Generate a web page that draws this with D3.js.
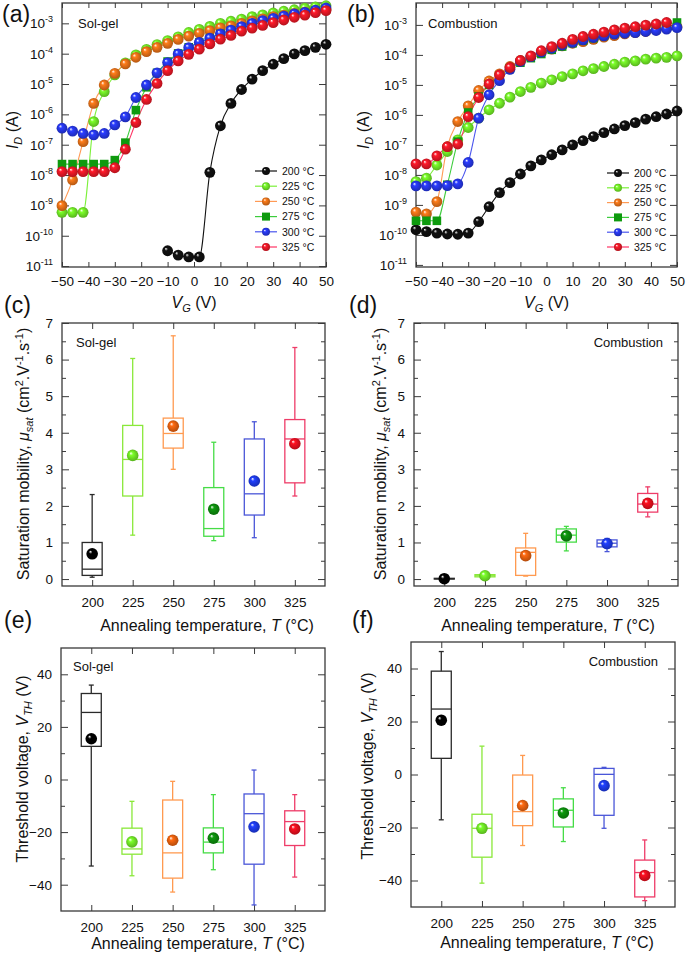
<!DOCTYPE html>
<html><head><meta charset="utf-8">
<script src="https://cdn.jsdelivr.net/npm/d3@7"></script>
<style>
body{margin:0;background:#fff}
svg{display:block}
text{font-family:"Liberation Sans",Arial,sans-serif;fill:#111}
</style>
</head><body>
<svg id="c" width="686" height="961"></svg>
<script>
// ---------------- DATA ----------------
const temps = [200, 225, 250, 275, 300, 325];
const tempLabels = ["200 °C", "225 °C", "250 °C", "275 °C", "300 °C", "325 °C"];
const vgTicks = [-50, -40, -30, -20, -10, 0, 10, 20, 30, 40, 50];
const vg = [-50, -46, -42, -38, -34, -30, -26, -22, -18, -14, -10, -6, -2, 2, 6, 10, 14, 18, 22, 26, 30, 34, 38, 42, 46, 50];
const logTicks = [1e-11, 1e-10, 1e-9, 1e-8, 1e-7, 1e-6, 1e-5, 1e-4, 1e-3];

// (a) Sol-gel transfer curves, I_D (A)
const idSolgel200 = [null, null, null, null, null, null, null, null, null, null, 3.2e-11, 2.3e-11, 2.0e-11, 2.0e-11, 1.23e-8, 4.2e-7, 2.3e-6, 6.6e-6, 1.45e-5, 2.75e-5, 4.5e-5, 6.9e-5, 9.8e-5, 1.26e-4, 1.62e-4, 2.04e-4];
const idSolgel225 = [5.9e-10, 5.9e-10, 5.9e-10, 5.8e-7, 5.6e-6, 2.0e-5, 5.0e-5, 9.1e-5, 1.38e-4, 2.0e-4, 2.7e-4, 3.6e-4, 5.0e-4, 6.3e-4, 7.9e-4, 1.0e-3, 1.17e-3, 1.38e-3, 1.66e-3, 1.9e-3, 2.19e-3, 2.5e-3, 2.8e-3, 3.16e-3, 3.47e-3, 3.8e-3];
const idSolgel250 = [9.8e-10, 6.9e-9, 1.26e-7, 2.3e-6, 9.3e-6, 2.24e-5, 4.6e-5, 7.6e-5, 1.17e-4, 1.62e-4, 2.19e-4, 2.95e-4, 3.8e-4, 4.7e-4, 5.75e-4, 7.1e-4, 8.3e-4, 1.0e-3, 1.2e-3, 1.41e-3, 1.66e-3, 1.86e-3, 2.14e-3, 2.34e-3, 2.63e-3, 2.88e-3];
const idSolgel275 = [2.3e-8, 2.3e-8, 2.3e-8, 2.3e-8, 2.3e-8, 3.1e-8, 1.17e-7, 1.38e-6, 7.8e-6, 2.34e-5, 5.5e-5, 1.02e-4, 1.62e-4, 2.34e-4, 3.24e-4, 4.5e-4, 5.75e-4, 7.2e-4, 8.9e-4, 1.1e-3, 1.35e-3, 1.58e-3, 1.82e-3, 2.14e-3, 2.57e-3, 2.88e-3];
const idSolgel300 = [3.5e-7, 2.8e-7, 2.35e-7, 2.1e-7, 2.35e-7, 4.5e-7, 8.3e-7, 3.6e-6, 9.3e-6, 2.34e-5, 5.1e-5, 9.8e-5, 1.58e-4, 2.34e-4, 3.24e-4, 4.5e-4, 6.0e-4, 7.8e-4, 1.0e-3, 1.23e-3, 1.45e-3, 1.74e-3, 2.04e-3, 2.29e-3, 2.7e-3, 3.2e-3];
const idSolgel325 = [1.3e-8, 1.3e-8, 1.3e-8, 1.3e-8, 1.3e-8, 1.74e-8, 7.1e-8, 5.4e-7, 3.1e-6, 1.05e-5, 2.75e-5, 5.75e-5, 9.5e-5, 1.41e-4, 2.1e-4, 3.0e-4, 4.0e-4, 5.5e-4, 6.9e-4, 8.5e-4, 1.05e-3, 1.29e-3, 1.58e-3, 1.86e-3, 2.24e-3, 2.63e-3];

// (b) Combustion transfer curves, I_D (A)
const idComb200 = [1.48e-10, 1.29e-10, 1.15e-10, 1.07e-10, 1.05e-10, 1.15e-10, 2.75e-10, 8.7e-10, 2.57e-9, 5.5e-9, 1.07e-8, 2.0e-8, 3.16e-8, 4.7e-8, 6.8e-8, 1.0e-7, 1.38e-7, 1.9e-7, 2.57e-7, 3.4e-7, 4.4e-7, 5.5e-7, 7.2e-7, 8.7e-7, 1.07e-6, 1.35e-6];
const idComb225 = [6.0e-9, 7.8e-9, 2.14e-8, 6.0e-8, 1.48e-7, 3.8e-7, 7.8e-7, 1.48e-6, 2.45e-6, 3.9e-6, 6.0e-6, 8.3e-6, 1.15e-5, 1.48e-5, 1.9e-5, 2.34e-5, 2.95e-5, 3.5e-5, 4.1e-5, 4.9e-5, 5.75e-5, 6.3e-5, 7.2e-5, 7.8e-5, 8.3e-5, 9.3e-5];
const idComb250 = [5.75e-10, 5.0e-10, 1.29e-9, 8.7e-8, 6.0e-7, 2.0e-6, 6.5e-6, 1.35e-5, 2.34e-5, 4.1e-5, 6.5e-5, 8.7e-5, 1.2e-4, 1.55e-4, 2.0e-4, 2.45e-4, 2.75e-4, 3.3e-4, 3.9e-4, 4.4e-4, 5.0e-4, 5.5e-4, 6.0e-4, 6.8e-4, 7.8e-4, 8.7e-4];
const idComb275 = [2.95e-10, 2.95e-10, 2.95e-10, 4.7e-9, 1.29e-7, 1.2e-6, 4.1e-6, 1.0e-5, 1.9e-5, 3.6e-5, 5.5e-5, 7.8e-5, 1.07e-4, 1.48e-4, 1.9e-4, 2.45e-4, 3.0e-4, 3.6e-4, 4.3e-4, 5.2e-4, 6.0e-4, 6.8e-4, 8.1e-4, 9.3e-4, 1.05e-3, 1.2e-3];
const idComb300 = [4.3e-9, 4.3e-9, 4.3e-9, 4.4e-9, 5.0e-9, 2.6e-8, 7.8e-7, 4.7e-6, 1.38e-5, 3.3e-5, 6.0e-5, 8.7e-5, 1.23e-4, 1.66e-4, 2.14e-4, 2.6e-4, 3.16e-4, 3.8e-4, 4.3e-4, 4.9e-4, 5.25e-4, 5.5e-4, 6.0e-4, 6.5e-4, 7.2e-4, 8.1e-4];
const idComb325 = [2.34e-8, 2.34e-8, 4.3e-8, 8.7e-8, 1.07e-7, 8.7e-7, 3.8e-6, 1.07e-5, 2.14e-5, 3.8e-5, 6.5e-5, 9.3e-5, 1.38e-4, 1.9e-4, 2.45e-4, 3.3e-4, 4.1e-4, 4.9e-4, 5.75e-4, 6.8e-4, 7.8e-4, 8.7e-4, 9.8e-4, 1.07e-3, 1.2e-3, null];

// (c) Sol-gel saturation mobility (cm2/Vs)
const mobSolgelMin  = [0.05, 1.2, 3.0, 1.05, 1.13, 2.27];
const mobSolgelQ1   = [0.1, 2.27, 3.58, 1.17, 1.75, 2.63];
const mobSolgelMed  = [0.27, 3.27, 3.98, 1.38, 2.33, 3.83];
const mobSolgelQ3   = [1.0, 4.2, 4.4, 2.5, 3.83, 4.36];
const mobSolgelMax  = [2.31, 6.03, 6.65, 3.74, 4.3, 6.33];
const mobSolgelMean = [0.69, 3.38, 4.18, 1.91, 2.68, 3.7];
// (d) Combustion saturation mobility
const mobCombMin  = [0.0, 0.05, 0.08, 0.77, 0.75, 1.7];
const mobCombQ1   = [0.0, 0.06, 0.1, 1.01, 0.88, 1.83];
const mobCombMed  = [0.01, 0.09, 0.73, 1.2, 0.98, 2.05];
const mobCombQ3   = [0.02, 0.12, 0.85, 1.37, 1.07, 2.34];
const mobCombMax  = [0.03, 0.13, 1.25, 1.44, 1.11, 2.52];
const mobCombMean = [0.01, 0.09, 0.64, 1.18, 0.97, 2.07];
// (e) Sol-gel threshold voltage (V)
const vthSolgelMin  = [-32.9, -36.6, -42.8, -34.3, -47.7, -37.1];
const vthSolgelQ1   = [12.6, -28.4, -37.5, -27.9, -32.2, -25.1];
const vthSolgelMed  = [25.5, -26.4, -27.9, -23.8, -13.0, -16.0];
const vthSolgelQ3   = [32.7, -18.5, -7.8, -18.4, -5.5, -11.9];
const vthSolgelMax  = [35.9, -8.3, -0.7, -5.75, 3.6, -5.75];
const vthSolgelMean = [15.5, -23.7, -23.1, -22.3, -18.0, -18.8];
// (f) Combustion threshold voltage (V)
const vthCombMin  = [-17.1, -41.0, -26.8, -25.3, -20.3, -47.6];
const vthCombQ1   = [6.1, -31.2, -19.3, -19.8, -15.4, -46.2];
const vthCombMed  = [24.7, -20.3, -14.0, -13.5, 0.06, -37.0];
const vthCombQ3   = [39.0, -15.0, -0.2, -9.2, 2.3, -32.3];
const vthCombMax  = [46.4, 10.7, 7.2, -5.0, 2.7, -24.7];
const vthCombMean = [20.5, -20.3, -11.7, -14.5, -4.2, -38.1];

const mobTicks = [0, 1, 2, 3, 4, 5, 6, 7];
const mobMinor = [0.5, 1.5, 2.5, 3.5, 4.5, 5.5, 6.5];
const vthTicks = [-40, -20, 0, 20, 40];
const vthMinor = [-30, -10, 10, 30];

// ---------------- STYLE ----------------
const markerColors = ["#111111", "#7cff2a", "#ff7d1a", "#0e9a0e", "#2a3cff", "#ff1a2a"];
const lineColors   = ["#111111", "#7cf03a", "#ff9a55", "#3ccc3c", "#4a55ee", "#ff3565"];
const boxColors    = ["#2a2a2a", "#8ae83a", "#ff9a50", "#46dc46", "#4a56d8", "#ee3c68"];
const meanColors   = ["#000000", "#7cff2a", "#ff6a10", "#0e9a0e", "#2040ff", "#ff1020"];
const FONT = '"Liberation Sans", Arial, sans-serif';
const frameColor = "#3a3a3a";

const svg = d3.select("#c");
const defs = svg.append("defs");
function makeGrad(id, c) {
  const g = defs.append("radialGradient").attr("id", id)
    .attr("cx", "50%").attr("cy", "50%").attr("r", "55%").attr("fx", "33%").attr("fy", "30%");
  g.append("stop").attr("offset", "0%").attr("stop-color", "#ffffff");
  g.append("stop").attr("offset", "28%").attr("stop-color", c);
  g.append("stop").attr("offset", "100%").attr("stop-color", d3.color(c).darker(1.1).formatHex());
}
markerColors.forEach((c, i) => makeGrad("sph" + i, c));
meanColors.forEach((c, i) => makeGrad("msph" + i, c));

function styleAxis(sel, fs) {
  sel.attr("font-size", fs).attr("font-family", FONT);
  sel.select(".domain").remove();
  sel.selectAll(".tick line").attr("stroke", frameColor).attr("stroke-width", 1);
  sel.selectAll(".tick text").attr("fill", "#111");
}
function frame(g, x0, y0, x1, y1) {
  g.append("rect").attr("x", x0).attr("y", y0).attr("width", x1 - x0).attr("height", y1 - y0)
    .attr("fill", "none").attr("stroke", frameColor).attr("stroke-width", 1.3);
}
function txt(g, x, y, s, fs, anchor) {
  return g.append("text").attr("x", x).attr("y", y).attr("font-size", fs)
    .attr("text-anchor", anchor || "start").text(s);
}

// ---------------- TRANSFER PANELS ----------------
function ivPanel(o) {
  const g = svg.append("g");
  const x = d3.scaleLinear().domain([-50, 50]).range([o.x0, o.x1]);
  const y = d3.scaleLog().domain(o.yDom).range([o.y1, o.y0]);

  const ax = g.append("g").attr("transform", `translate(0,${o.y1})`)
    .call(d3.axisBottom(x).tickValues(vgTicks).tickSize(-5).tickPadding(9).tickFormat(d3.format("d")));
  styleAxis(ax, 13.5);
  const axt = g.append("g").attr("transform", `translate(0,${o.y0})`)
    .call(d3.axisTop(x).tickValues(vgTicks).tickSize(-5).tickFormat(""));
  styleAxis(axt, 12);
  const ay = g.append("g").attr("transform", `translate(${o.x0},0)`)
    .call(d3.axisLeft(y).tickValues(logTicks).tickSize(-7).tickFormat(""));
  styleAxis(ay, 12);
  ay.selectAll(".tick").append("text")
    .attr("x", -9).attr("dy", "0.34em").attr("text-anchor", "end").attr("font-size", 13.5).attr("fill", "#111")
    .each(function (d) {
      const t = d3.select(this);
      t.append("tspan").text("10");
      t.append("tspan").attr("font-size", 9).attr("dy", -6).text("-" + Math.round(-Math.log10(d)));
    });
  const ayr = g.append("g").attr("transform", `translate(${o.x1},0)`)
    .call(d3.axisRight(y).tickValues(logTicks).tickSize(-7).tickFormat(""));
  styleAxis(ayr, 12);
  frame(g, o.x0, o.y0, o.x1, o.y1);

  const line = d3.line().defined(d => d[1] != null).x(d => x(d[0])).y(d => y(d[1])).curve(d3.curveMonotoneX);
  o.series.forEach((s, i) => {
    const pts = vg.map((v, k) => [v, s[k]]);
    g.append("path").datum(pts).attr("d", line).attr("fill", "none")
      .attr("stroke", lineColors[i]).attr("stroke-width", 1.1);
  });
  o.series.forEach((s, i) => {
    const pts = vg.map((v, k) => [v, s[k]]).filter(d => d[1] != null);
    if (i === 3) {
      g.selectAll(null).data(pts).enter().append("rect")
        .attr("x", d => x(d[0]) - 4.3).attr("y", d => y(d[1]) - 4.3).attr("width", 8.6).attr("height", 8.6)
        .attr("fill", markerColors[3]);
    } else {
      g.selectAll(null).data(pts).enter().append("circle")
        .attr("cx", d => x(d[0])).attr("cy", d => y(d[1])).attr("r", 5.4)
        .attr("fill", `url(#sph${i})`);
    }
  });

  // legend
  tempLabels.forEach((lab, i) => {
    const ly = o.legY + i * o.legStep;
    g.append("line").attr("x1", o.legX - 11).attr("x2", o.legX + 11).attr("y1", ly).attr("y2", ly)
      .attr("stroke", lineColors[i]).attr("stroke-width", 1.2);
    if (i === 3) g.append("rect").attr("x", o.legX - 4).attr("y", ly - 4).attr("width", 8).attr("height", 8).attr("fill", markerColors[3]);
    else g.append("circle").attr("cx", o.legX).attr("cy", ly).attr("r", 4).attr("fill", `url(#sph${i})`);
    txt(g, o.legX + 16, ly + 3.8, lab, 10.5);
  });

  // labels
  txt(g, o.letterX, 22, o.letter, 23);
  txt(g, o.noteX, 28, o.note, 13);
  const xt = g.append("text").attr("x", (o.x0 + o.x1) / 2).attr("y", 308).attr("font-size", 16).attr("text-anchor", "middle");
  xt.append("tspan").attr("font-style", "italic").text("V");
  xt.append("tspan").attr("font-size", 11).attr("font-style", "italic").attr("dy", 4).text("G");
  xt.append("tspan").attr("dy", -4).text(" (V)");
  const yt = g.append("text").attr("transform", `translate(${o.yTitleX},${o.yTitleY}) rotate(-90)`)
    .attr("font-size", 16).attr("text-anchor", "middle");
  yt.append("tspan").attr("font-style", "italic").text("I");
  yt.append("tspan").attr("font-size", 11).attr("font-style", "italic").attr("dy", 4).text("D");
  yt.append("tspan").attr("dy", -4).text(" (A)");
}

ivPanel({x0: 62, x1: 326, y0: 3, y1: 267, yDom: [Math.pow(10, -11.03), Math.pow(10, -2.33)],
  series: [idSolgel200, idSolgel225, idSolgel250, idSolgel275, idSolgel300, idSolgel325],
  legX: 266, legY: 171, legStep: 15.2, letter: "(a)", letterX: 2, note: "Sol-gel", noteX: 78,
  yTitleX: 18, yTitleY: 130});
ivPanel({x0: 416, x1: 677, y0: 3, y1: 267, yDom: [Math.pow(10, -11.07), Math.pow(10, -2.27)],
  series: [idComb200, idComb225, idComb250, idComb275, idComb300, idComb325],
  legX: 618, legY: 173, legStep: 14.8, letter: "(b)", letterX: 347, note: "Combustion", noteX: 428,
  yTitleX: 369, yTitleY: 130});

// ---------------- BOX PANELS ----------------
function boxPanel(o) {
  const g = svg.append("g");
  const x = d3.scaleLinear().domain([181.4, 343.6]).range([o.x0, o.x1]);
  const y = d3.scaleLinear().domain(o.yDom).range([o.y1, o.y0]);

  const ax = g.append("g").attr("transform", `translate(0,${o.y1})`)
    .call(d3.axisBottom(x).tickValues(temps).tickSize(-6).tickPadding(11).tickFormat(d3.format("d")));
  styleAxis(ax, 13.5);
  const axt = g.append("g").attr("transform", `translate(0,${o.y0})`)
    .call(d3.axisTop(x).tickValues(temps).tickSize(-6).tickFormat(""));
  styleAxis(axt, 12);
  const ay = g.append("g").attr("transform", `translate(${o.x0},0)`)
    .call(d3.axisLeft(y).tickValues(o.ticks).tickSize(-7).tickPadding(9).tickFormat(d3.format("d")));
  styleAxis(ay, 13.5);
  const aym = g.append("g").attr("transform", `translate(${o.x0},0)`)
    .call(d3.axisLeft(y).tickValues(o.minor).tickSize(-4).tickFormat(""));
  styleAxis(aym, 12);
  const ayr = g.append("g").attr("transform", `translate(${o.x1},0)`)
    .call(d3.axisRight(y).tickValues(o.ticks).tickSize(-7).tickFormat(""));
  styleAxis(ayr, 12);
  const ayrm = g.append("g").attr("transform", `translate(${o.x1},0)`)
    .call(d3.axisRight(y).tickValues(o.minor).tickSize(-4).tickFormat(""));
  styleAxis(ayrm, 12);
  frame(g, o.x0, o.y0, o.x1, o.y1);

  const bw = 20, cw = 2.5;
  temps.forEach((t, i) => {
    const cx = x(t), c = boxColors[i];
    const b = g.append("g").attr("stroke", c).attr("stroke-width", 1.3).attr("fill", "none");
    b.append("line").attr("x1", cx).attr("x2", cx).attr("y1", y(o.q3[i])).attr("y2", y(o.max[i]));
    b.append("line").attr("x1", cx).attr("x2", cx).attr("y1", y(o.q1[i])).attr("y2", y(o.min[i]));
    b.append("line").attr("x1", cx - cw).attr("x2", cx + cw).attr("y1", y(o.max[i])).attr("y2", y(o.max[i]));
    b.append("line").attr("x1", cx - cw).attr("x2", cx + cw).attr("y1", y(o.min[i])).attr("y2", y(o.min[i]));
    b.append("rect").attr("x", cx - bw / 2).attr("width", bw)
      .attr("y", y(o.q3[i])).attr("height", Math.max(0.5, y(o.q1[i]) - y(o.q3[i])));
    b.append("line").attr("x1", cx - bw / 2).attr("x2", cx + bw / 2).attr("y1", y(o.med[i])).attr("y2", y(o.med[i]));
    g.append("circle").attr("cx", cx).attr("cy", y(o.mean[i])).attr("r", 5.8).attr("fill", `url(#msph${i})`);
  });

  txt(g, o.letterX, o.letterY, o.letter, 23);
  txt(g, o.noteX, o.noteY, o.note, 13, o.noteAnchor);
  const xt = g.append("text").attr("x", o.xTitleX).attr("y", o.xTitleY).attr("font-size", 16).attr("text-anchor", "middle");
  xt.append("tspan").text("Annealing temperature, ");
  xt.append("tspan").attr("font-style", "italic").text("T");
  xt.append("tspan").text(" (°C)");
  const yt = g.append("text").attr("transform", `translate(${o.yTitleX},${o.yTitleY}) rotate(-90)`)
    .attr("font-size", 16).attr("text-anchor", "middle");
  o.yTitle(yt);
}
function mobTitle(t) {
  t.append("tspan").text("Saturation mobility, ");
  t.append("tspan").attr("font-style", "italic").text("μ");
  t.append("tspan").attr("font-style", "italic").attr("font-size", 11).attr("dy", 4).text("sat");
  t.append("tspan").attr("dy", -4).text(" (cm");
  t.append("tspan").attr("font-size", 11).attr("dy", -6).text("2");
  t.append("tspan").attr("dy", 6).text(".V");
  t.append("tspan").attr("font-size", 11).attr("dy", -6).text("-1");
  t.append("tspan").attr("dy", 6).text(".s");
  t.append("tspan").attr("font-size", 11).attr("dy", -6).text("-1");
  t.append("tspan").attr("dy", 6).text(")");
}
function vthTitle(t) {
  t.append("tspan").text("Threshold voltage, ");
  t.append("tspan").attr("font-style", "italic").text("V");
  t.append("tspan").attr("font-style", "italic").attr("font-size", 11).attr("dy", 4).text("TH");
  t.append("tspan").attr("dy", -4).text(" (V)");
}

boxPanel({x0: 62, x1: 325, y0: 323, y1: 586, yDom: [-0.19, 7], ticks: mobTicks, minor: mobMinor,
  min: mobSolgelMin, q1: mobSolgelQ1, med: mobSolgelMed, q3: mobSolgelQ3, max: mobSolgelMax, mean: mobSolgelMean,
  letter: "(c)", letterX: 4, letterY: 313, note: "Sol-gel", noteX: 76, noteY: 347,
  xTitleX: 207, xTitleY: 631, yTitleX: 29, yTitleY: 454, yTitle: mobTitle});
boxPanel({x0: 414, x1: 678, y0: 323, y1: 586, yDom: [-0.19, 7], ticks: mobTicks, minor: mobMinor,
  min: mobCombMin, q1: mobCombQ1, med: mobCombMed, q3: mobCombQ3, max: mobCombMax, mean: mobCombMean,
  letter: "(d)", letterX: 349, letterY: 313, note: "Combustion", noteX: 663, noteY: 347, noteAnchor: "end",
  xTitleX: 548, xTitleY: 631, yTitleX: 386, yTitleY: 454, yTitle: mobTitle});
boxPanel({x0: 61, x1: 325, y0: 648, y1: 911, yDom: [-50, 50], ticks: vthTicks, minor: vthMinor,
  min: vthSolgelMin, q1: vthSolgelQ1, med: vthSolgelMed, q3: vthSolgelQ3, max: vthSolgelMax, mean: vthSolgelMean,
  letter: "(e)", letterX: 4, letterY: 628, note: "Sol-gel", noteX: 73, noteY: 671,
  xTitleX: 198, xTitleY: 949, yTitleX: 28, yTitleY: 769, yTitle: vthTitle});
boxPanel({x0: 411, x1: 675, y0: 642, y1: 907, yDom: [-50, 50], ticks: vthTicks, minor: vthMinor,
  min: vthCombMin, q1: vthCombQ1, med: vthCombMed, q3: vthCombQ3, max: vthCombMax, mean: vthCombMean,
  letter: "(f)", letterX: 352, letterY: 628, note: "Combustion", noteX: 658, noteY: 666, noteAnchor: "end",
  xTitleX: 547, xTitleY: 948, yTitleX: 373, yTitleY: 766, yTitle: vthTitle});
</script>
</body></html>
